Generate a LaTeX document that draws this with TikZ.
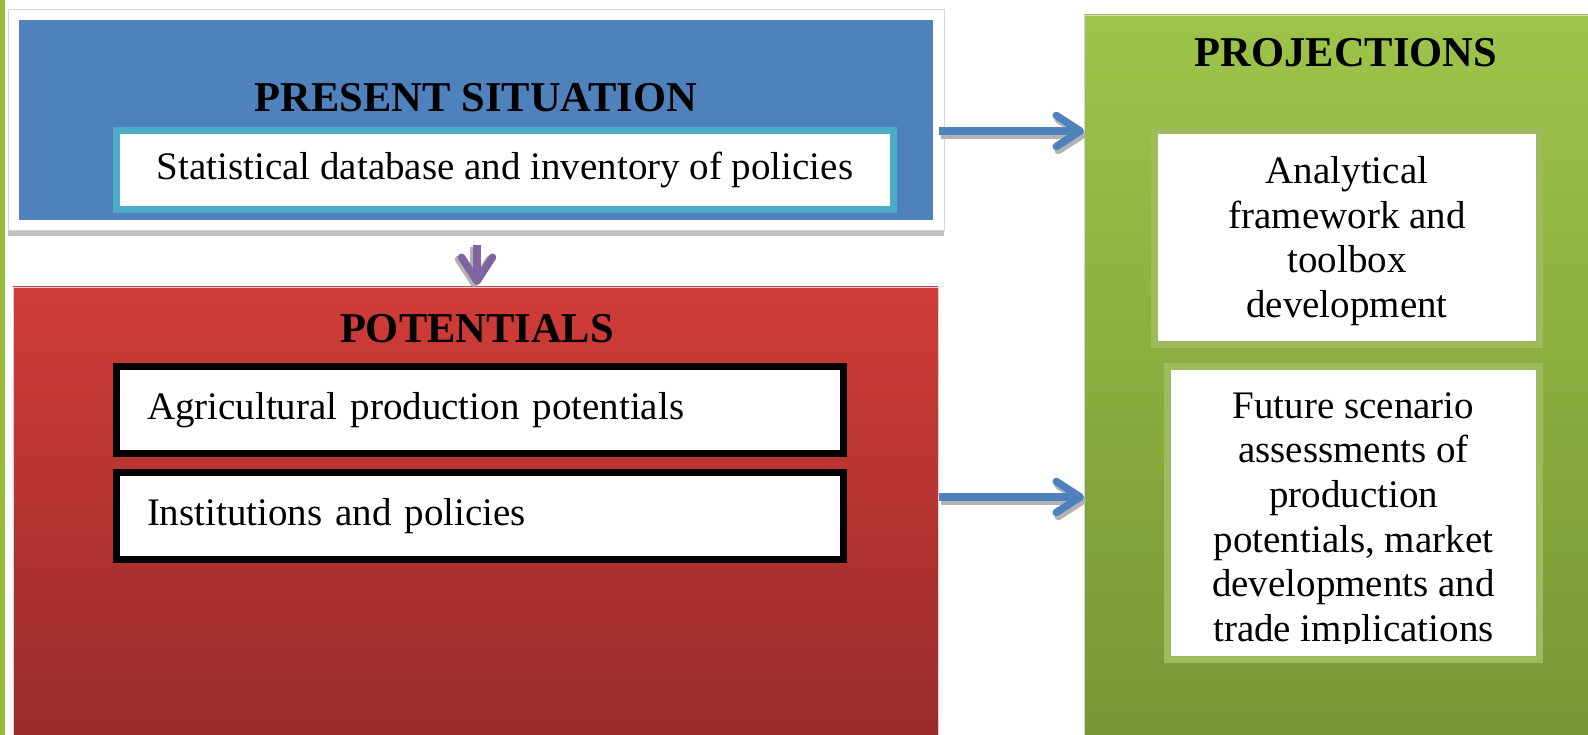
\documentclass[tikz,border=0pt]{standalone}
\usepackage{fontspec}
\setmainfont{Liberation Serif}
\usetikzlibrary{arrows.meta,calc}
\definecolor{sidegreen}{RGB}{152,186,58}
\definecolor{pblue}{RGB}{79,129,189}
\definecolor{pcyan}{RGB}{75,172,198}
\definecolor{redtop}{RGB}{208,60,56}
\definecolor{redbot}{RGB}{154,43,43}
\definecolor{greentop}{RGB}{157,196,74}
\definecolor{greenbot}{RGB}{119,151,54}
\definecolor{lgreen}{RGB}{157,187,92}
\definecolor{framegray}{RGB}{212,212,212}
\definecolor{shadowgray}{RGB}{192,192,192}
\definecolor{arrgray}{RGB}{178,178,178}
\definecolor{ppurple}{RGB}{128,100,162}
\begin{document}
\begin{tikzpicture}[x=1pt,y=-1pt,
  box/.style={rectangle, inner sep=0pt, outer sep=0pt, anchor=north west},
  hd/.style={font=\fontsize{42.5}{48}\selectfont\bfseries, anchor=base, inner sep=0pt},
  body/.style={font=\fontsize{39}{44.7}\selectfont},
  listbox/.style={box, fill=white, draw=black, line width=7pt, minimum width=727, minimum height=87, body, text width=666, align=left, inner xsep=30.5pt},
  rbox/.style={box, fill=white, draw=lgreen, line width=7pt},
  rtext/.style={body, align=center, inner sep=0pt},
  arrowbase/.style={line width=7.5pt, -{Straight Barb[length=24pt,width=31pt,round]}},
  bluearr/.style={arrowbase, draw=pblue},
  purparr/.style={arrowbase, draw=ppurple},
  shadarr/.style={arrowbase, draw=arrgray}
]
\useasboundingbox (0,0) rectangle (1588,735);
\fill[white] (0,0) rectangle (1588,735);
% left side strip
\fill[sidegreen] (0,0) rectangle (5,735);

% present situation
\fill[shadowgray] (8,226) rectangle (944,236);
\node[box, fill=white, draw=framegray, line width=1pt, minimum width=936, minimum height=221] (frame) at (8,10) {};
\node[box, fill=pblue, minimum width=914, minimum height=200] (present) at (19,20) {};
\node[hd] (presentT) at (476,112) {PRESENT SITUATION};
\node[box, fill=white, draw=pcyan, line width=7pt, minimum width=777, minimum height=79, body, align=center] (stat) at (116.5,130.5) {Statistical database and inventory of policies};

% potentials
\node[box, top color=redtop, bottom color=redbot, draw=framegray, line width=0.8pt, minimum width=925, minimum height=449] (pot) at (13,287) {};
\node[hd] (potT) at (477,342) {POTENTIALS};
\node[listbox] (agri) at (116.5,366.5) {Agricultural production potentials};
\node[listbox] (inst) at (116.5,472.5) {Institutions and policies};

% projections
\node[box, top color=greentop, bottom color=greenbot, draw=framegray, line width=0.8pt, minimum width=505, minimum height=721] (proj) at (1084,15) {};
\node[hd] (projT) at (1346,67) {PROJECTIONS};
\node[rbox, minimum width=385, minimum height=214] (ana) at (1154.5,130.5) {};
\node[rtext] (anaT) at ([yshift=-3.5pt]ana.center) {Analytical\\framework and\\toolbox\\development};
\node[rbox, minimum width=372, minimum height=293] (fut) at (1167.5,366.5) {};
\begin{scope}
  \clip (1160,360) rectangle (1550,643);
  \node[rtext] (futT) at ([yshift=-8pt]fut.center) {Future scenario\\assessments of\\production\\potentials, market\\developments and\\trade implications};
\end{scope}

% connectors
\coordinate (a1) at (939,131);
\coordinate (a2) at (939,497);
\coordinate (a3) at (477,245);
\draw[shadarr, transform canvas={shift={(2pt,-4pt)}}] (a1) -- (proj.west |- a1);
\draw[bluearr] (a1) -- (proj.west |- a1);
\draw[shadarr, transform canvas={shift={(2pt,-4pt)}}] (a2) -- (proj.west |- a2);
\draw[bluearr] (a2) -- (proj.west |- a2);
\draw[shadarr, transform canvas={shift={(-3pt,-2pt)}}] (a3) -- ([yshift=2pt]pot.north -| a3);
\draw[purparr] (a3) -- ([yshift=2pt]pot.north -| a3);
\end{tikzpicture}
\end{document}
